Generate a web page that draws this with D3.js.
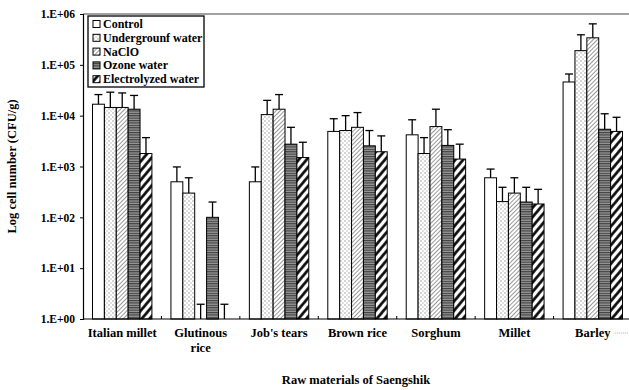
<!DOCTYPE html>
<html lang="en">
<head>
  <meta charset="UTF-8">
  <title>Log cell number by raw material</title>
  <script src="https://d3js.org/d3.v7.min.js"></script>
  <style>
    body {
      margin: 0;
      padding: 0;
      background: #fff;
    }
    svg text {
      font-family: "Liberation Serif", "Times New Roman", serif;
      font-weight: bold;
      fill: #000;
    }
  </style>
</head>
<body>
  <div id="chart"></div>

  <script>
    const categories = ["Italian millet", "Glutinous rice", "Job's tears", "Brown rice", "Sorghum", "Millet", "Barley"];
    const seriesNames = ["Control", "Undergrounf water", "NaClO", "Ozone water", "Electrolyzed water"];
    const yTicks = [1, 10, 100, 1000, 10000, 100000, 1000000];

    // mean values (CFU/g), one array per treatment
    const control     = [16800, 500, 500, 4900, 4200, 600, 46000];
    const underground = [14500, 300, 10500, 5100, 1800, 204, 190000];
    const naclo       = [14500, 1, 13400, 5900, 6100, 300, 340000];
    const ozone       = [13400, 100, 2750, 2550, 2600, 200, 5400];
    const electro     = [1800, 1, 1500, 1950, 1400, 183, 4900];

    // standard deviations
    const controlSd     = [9200, 480, 480, 3800, 4100, 290, 20000];
    const undergroundSd = [14500, 300, 9500, 4900, 1900, 186, 200000];
    const nacloSd       = [13500, 0.95, 12600, 5600, 7300, 300, 300000];
    const ozoneSd       = [11600, 100, 3150, 2550, 2700, 190, 5500];
    const electroSd     = [1900, 0.95, 1500, 2050, 1350, 172, 4400];

    const means = [control, underground, naclo, ozone, electro];
    const sds = [controlSd, undergroundSd, nacloSd, ozoneSd, electroSd];
    const fills = ["#fff", "url(#dots)", "url(#fineDiag)", "url(#hstripe)", "url(#boldDiag)"];

    const W = 629, H = 390;
    const m = { left: 83, right: 632, top: 14, bottom: 319 };

    const svg = d3.select("#chart")
      .append("svg")
      .attr("width", W)
      .attr("height", H);

    // fill patterns
    const defs = svg.append("defs");

    const dots = defs.append("pattern").attr("id", "dots")
      .attr("patternUnits", "userSpaceOnUse").attr("width", 4).attr("height", 4);
    dots.append("rect").attr("width", 4).attr("height", 4).attr("fill", "#fff");
    dots.append("rect").attr("x", 0.5).attr("y", 0.5).attr("width", 1).attr("height", 1).attr("fill", "#555");
    dots.append("rect").attr("x", 2.5).attr("y", 2.5).attr("width", 1).attr("height", 1).attr("fill", "#888");

    const fine = defs.append("pattern").attr("id", "fineDiag")
      .attr("patternUnits", "userSpaceOnUse").attr("width", 3).attr("height", 3)
      .attr("patternTransform", "rotate(45)");
    fine.append("rect").attr("width", 3).attr("height", 3).attr("fill", "#fff");
    fine.append("line").attr("x1", 0).attr("y1", 0).attr("x2", 0).attr("y2", 3)
      .attr("stroke", "#444").attr("stroke-width", 1.1);

    const hs = defs.append("pattern").attr("id", "hstripe")
      .attr("patternUnits", "userSpaceOnUse").attr("width", 4).attr("height", 2.4);
    hs.append("rect").attr("width", 4).attr("height", 2.4).attr("fill", "#999");
    hs.append("line").attr("x1", 0).attr("y1", 0.6).attr("x2", 4).attr("y2", 0.6)
      .attr("stroke", "#333").attr("stroke-width", 1);

    const bold = defs.append("pattern").attr("id", "boldDiag")
      .attr("patternUnits", "userSpaceOnUse").attr("width", 6).attr("height", 6)
      .attr("patternTransform", "rotate(40)");
    bold.append("rect").attr("width", 6).attr("height", 6).attr("fill", "#fff");
    bold.append("line").attr("x1", 1.5).attr("y1", 0).attr("x2", 1.5).attr("y2", 6)
      .attr("stroke", "#000").attr("stroke-width", 2.6);

    // scales
    const x0 = d3.scaleBand().domain(categories).range([m.left, m.right]);
    const x1 = d3.scaleBand().domain(seriesNames).range([0, x0.bandwidth()])
      .paddingInner(0).paddingOuter(0.8);
    const y = d3.scaleLog().domain([1, 1e6]).range([m.bottom, m.top]);

    // top frame line
    svg.append("line")
      .attr("x1", m.left).attr("x2", W).attr("y1", m.top).attr("y2", m.top)
      .attr("stroke", "#444").attr("stroke-width", 1.2);

    // bars
    const rows = [];
    categories.forEach((c, i) => {
      seriesNames.forEach((s, j) => {
        rows.push({ cat: c, ser: s, j: j, v: means[j][i], sd: sds[j][i] });
      });
    });

    svg.append("g").selectAll("rect")
      .data(rows.filter(d => d.v > 1))
      .join("rect")
      .attr("x", d => x0(d.cat) + x1(d.ser))
      .attr("y", d => y(d.v))
      .attr("width", x1.bandwidth())
      .attr("height", d => y(1) - y(d.v))
      .attr("fill", d => fills[d.j])
      .attr("stroke", "#000")
      .attr("stroke-width", 1);

    // error bars
    const eb = svg.append("g").attr("stroke", "#000").attr("stroke-width", 1.3);
    eb.selectAll("line.v")
      .data(rows)
      .join("line")
      .attr("class", "v")
      .attr("x1", d => x0(d.cat) + x1(d.ser) + x1.bandwidth() / 2)
      .attr("x2", d => x0(d.cat) + x1(d.ser) + x1.bandwidth() / 2)
      .attr("y1", d => y(d.v))
      .attr("y2", d => y(d.v + d.sd));
    eb.selectAll("line.cap")
      .data(rows)
      .join("line")
      .attr("class", "cap")
      .attr("x1", d => x0(d.cat) + x1(d.ser) + x1.bandwidth() / 2 - 4)
      .attr("x2", d => x0(d.cat) + x1(d.ser) + x1.bandwidth() / 2 + 4)
      .attr("y1", d => y(d.v + d.sd))
      .attr("y2", d => y(d.v + d.sd));

    // y axis
    const yAxis = svg.append("g")
      .attr("transform", `translate(${m.left},0)`)
      .call(d3.axisLeft(y).tickValues(yTicks).tickSize(3).tickPadding(5)
        .tickFormat(d => "1.E+" + String(Math.round(Math.log10(d))).padStart(2, "0")));
    yAxis.select(".domain").attr("stroke", "#000").attr("stroke-width", 1.2);
    yAxis.selectAll("text").attr("font-size", 11.5)
      .style("font-family", "'Liberation Serif', serif").style("font-weight", "bold");

    // x axis line with boundary ticks
    svg.append("line")
      .attr("x1", m.left).attr("x2", W).attr("y1", m.bottom).attr("y2", m.bottom)
      .attr("stroke", "#000").attr("stroke-width", 1.2);
    svg.append("g").selectAll("line")
      .data(categories.slice(1))
      .join("line")
      .attr("x1", d => x0(d)).attr("x2", d => x0(d))
      .attr("y1", m.bottom).attr("y2", m.bottom - 3)
      .attr("stroke", "#000");

    // category labels
    const labels = svg.append("g").selectAll("text")
      .data(categories)
      .join("text")
      .attr("text-anchor", "middle")
      .attr("font-size", 12.5)
      .attr("transform", d => `translate(${x0(d) + x0.bandwidth() / 2},${m.bottom + 18})`);
    labels.each(function(d) {
      const parts = d === "Glutinous rice" ? ["Glutinous", "rice"] : [d];
      d3.select(this).selectAll("tspan")
        .data(parts)
        .join("tspan")
        .attr("x", 0)
        .attr("dy", (p, k) => k === 0 ? 0 : 15)
        .text(p => p);
    });

    // faint dotted trail after Barley
    svg.append("line")
      .attr("x1", x0("Barley") + x0.bandwidth() / 2 + 22).attr("x2", W)
      .attr("y1", m.bottom + 14).attr("y2", m.bottom + 14)
      .attr("stroke", "#999").attr("stroke-width", 0.8).attr("stroke-dasharray", "1,1");

    // axis titles
    svg.append("text")
      .attr("text-anchor", "middle")
      .attr("font-size", 12.5)
      .attr("transform", `translate(16,${(m.top + m.bottom) / 2}) rotate(-90)`)
      .text("Log cell number (CFU/g)");

    svg.append("text")
      .attr("x", 356).attr("y", 384)
      .attr("text-anchor", "middle")
      .attr("font-size", 12.5)
      .text("Raw materials of Saengshik");

    // legend
    const lg = svg.append("g").attr("transform", "translate(88,16)");
    lg.append("rect")
      .attr("width", 116).attr("height", 71)
      .attr("fill", "#fff").attr("stroke", "#000").attr("stroke-width", 1.3);
    const items = lg.selectAll("g.item")
      .data(seriesNames)
      .join("g")
      .attr("class", "item")
      .attr("transform", (d, i) => `translate(5,${8 + i * 13.8})`);
    items.append("rect")
      .attr("x", 0).attr("y", -3.5).attr("width", 7).attr("height", 7)
      .attr("fill", (d, i) => fills[i])
      .attr("stroke", "#000").attr("stroke-width", 1);
    items.append("text")
      .attr("x", 10).attr("y", 4)
      .attr("font-size", 12)
      .text(d => d);
  </script>
</body>
</html>
